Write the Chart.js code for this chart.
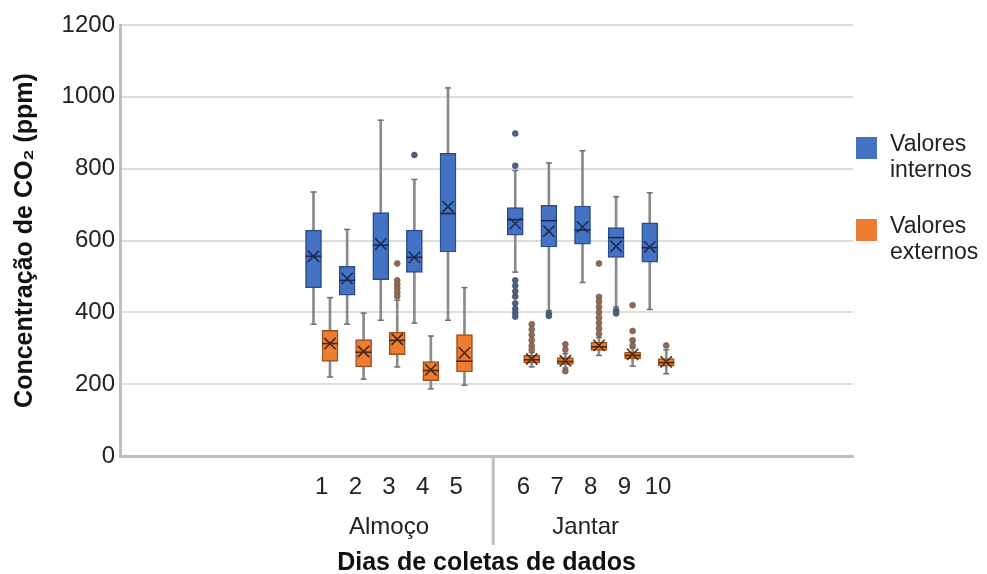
<!DOCTYPE html>
<html>
<head>
<meta charset="utf-8">
<script src="https://cdn.jsdelivr.net/npm/chart.js@4.4.0/dist/chart.umd.min.js"></script>
<style>
  body { margin: 0; background: #fff; }
  #wrap { width: 987px; height: 574px; }
</style>
</head>
<body>
<div id="wrap"><canvas id="grafico" width="987" height="574"></canvas></div>
<script>
// Dias de coleta e grupos
const dias = ['1', '2', '3', '4', '5', '6', '7', '8', '9', '10'];
const grupos = ['Almoço', 'Jantar'];
const yTicks = [0, 200, 400, 600, 800, 1000, 1200];

// Valores internos (ppm)
const intMin = [367, 367, 378, 370, 378, 512, 405, 483, 415, 408];
const intQ1 = [469, 448, 491, 511, 568, 615, 582, 590, 553, 540];
const intMed = [556, 489, 587, 553, 675, 658, 655, 629, 608, 580];
const intQ3 = [629, 528, 678, 629, 843, 692, 698, 696, 636, 649];
const intMax = [735, 631, 935, 770, 1025, 795, 816, 850, 722, 733];
const intMedia = [556, 494, 590, 553, 694, 647, 626, 638, 584, 582];
const intOut = [[], [], [], [838], [], [898, 808, 489, 474, 459, 444, 425, 410, 398, 388], [396, 390], [], [405, 397], []];

// Valores externos (ppm)
const extMin = [220, 214, 248, 187, 197, 248, 245, 280, 250, 229];
const extQ1 = [263, 248, 282, 210, 234, 259, 255, 294, 271, 250];
const extMed = [313, 289, 322, 238, 264, 268, 263, 304, 280, 260];
const extQ3 = [350, 324, 345, 263, 338, 280, 274, 317, 289, 271];
const extMax = [441, 398, 434, 334, 469, 288, 285, 330, 300, 296];
const extMedia = [313, 291, 325, 240, 287, 270, 265, 308, 283, 262];
const extOut = [[], [], [536, 489, 478, 467, 456, 445], [], [], [367, 352, 337, 322, 307, 296], [311, 296, 236], [536, 443, 430, 415, 400, 385, 370, 355, 340], [420, 348, 322, 308], [308]];

// posição no eixo x: um espaço vazio entre almoço e jantar
const posDia = i => (i < 5 ? i + 1 : i + 2);
const desloc = 0.245;
const xInt = i => posDia(i) - desloc;
const xExt = i => posDia(i) + desloc;

const fonte = '"Liberation Sans", Arial, sans-serif';
Chart.defaults.font.family = fonte;

const azul = '#4472c4', azulBorda = '#2e4d86', azulEscuro = '#1c2b4d';
const laranja = '#ed7d31', laranjaBorda = '#9c5020', laranjaEscuro = '#4a2a12';
const cinza = '#8a8a8a';

function pontos(xf, vals) {
    return vals.map((v, i) => ({ x: xf(i), y: v }));
}
function outliers(xf, lista) {
    const res = [];
    lista.forEach((vals, i) => vals.forEach(v => res.push({ x: xf(i), y: v })));
    return res;
}

// Separador, rótulos dos grupos e legenda
const extras = {
    id: 'extras',
    afterDraw(chart) {
        const { ctx, chartArea, scales: { x } } = chart;
        ctx.save();
        // linha entre almoço e jantar
        const xs = x.getPixelForValue(6.1);
        ctx.strokeStyle = '#bfbfbf';
        ctx.lineWidth = 3;
        ctx.beginPath();
        ctx.moveTo(xs, chartArea.bottom);
        ctx.lineTo(xs, chartArea.bottom + 89);
        ctx.stroke();

        ctx.font = '24px ' + fonte;
        ctx.fillStyle = '#222';
        ctx.textAlign = 'center';
        ctx.textBaseline = 'middle';
        ctx.fillText(grupos[0], x.getPixelForValue(3), chartArea.bottom + 71);
        ctx.fillText(grupos[1], x.getPixelForValue(8.85), chartArea.bottom + 71);

        // legenda com duas linhas
        ctx.font = '23px ' + fonte;
        const itens = chart.data.datasets.filter(d => d.legenda);
        itens.forEach((d, k) => {
            const top = chartArea.top + 112 + k * 82;
            ctx.fillStyle = d.backgroundColor;
            ctx.fillRect(chartArea.right + 3, top, 21, 22);
            ctx.fillStyle = '#222';
            ctx.textAlign = 'left';
            const partes = d.label.split(' ');
            ctx.fillText(partes[0], chartArea.right + 37, top + 8);
            ctx.fillText(partes[1], chartArea.right + 37, top + 34);
        });
        ctx.restore();
    }
};

new Chart(document.getElementById('grafico'), {
    type: 'bar',
    data: {
        datasets: [
            { type: 'scatter', data: pontos(xInt, intMedia), pointStyle: 'crossRot', radius: 8, borderColor: azulEscuro, borderWidth: 1.6, order: 1 },
            { type: 'scatter', data: pontos(xExt, extMedia), pointStyle: 'crossRot', radius: 8, borderColor: laranjaEscuro, borderWidth: 1.6, order: 1 },
            { type: 'scatter', data: pontos(xInt, intMed), pointStyle: 'line', radius: 8, borderColor: azulEscuro, borderWidth: 1.6, order: 2 },
            { type: 'scatter', data: pontos(xExt, extMed), pointStyle: 'line', radius: 8, borderColor: laranjaEscuro, borderWidth: 1.6, order: 2 },
            { type: 'scatter', data: outliers(xInt, intOut), radius: 3, backgroundColor: '#4e5f80', borderColor: '#3b4a66', borderWidth: 0.5, order: 3 },
            { type: 'scatter', data: outliers(xExt, extOut), radius: 3, backgroundColor: '#8d6b55', borderColor: '#6a4f3e', borderWidth: 0.5, order: 3 },
            {
                label: 'Valores internos', legenda: true,
                data: intQ1.map((q, i) => ({ x: xInt(i), y: [q, intQ3[i]] })),
                backgroundColor: azul, borderColor: azulBorda, borderWidth: 1.5, borderSkipped: false,
                barThickness: 16, grouped: false, order: 4
            },
            {
                label: 'Valores externos', legenda: true,
                data: extQ1.map((q, i) => ({ x: xExt(i), y: [q, extQ3[i]] })),
                backgroundColor: laranja, borderColor: laranjaBorda, borderWidth: 1.5, borderSkipped: false,
                barThickness: 16, grouped: false, order: 4
            },
            { type: 'scatter', data: pontos(xInt, intMin).concat(pontos(xInt, intMax)), pointStyle: 'line', radius: 3, borderColor: '#6f6f6f', borderWidth: 1.5, order: 5 },
            { type: 'scatter', data: pontos(xExt, extMin).concat(pontos(xExt, extMax)), pointStyle: 'line', radius: 3, borderColor: '#6f6f6f', borderWidth: 1.5, order: 5 },
            {
                data: intMin.map((m, i) => ({ x: xInt(i), y: [m, intMax[i]] })),
                backgroundColor: cinza, borderWidth: 0, barThickness: 2, grouped: false, order: 6
            },
            {
                data: extMin.map((m, i) => ({ x: xExt(i), y: [m, extMax[i]] })),
                backgroundColor: cinza, borderWidth: 0, barThickness: 2, grouped: false, order: 6
            }
        ]
    },
    options: {
        responsive: false,
        animation: false,
        events: [],
        layout: { padding: { top: 25, right: 134, left: 0, bottom: 0 } },
        plugins: { legend: { display: false }, tooltip: { enabled: false } },
        scales: {
            x: {
                type: 'linear', min: -5, max: 16.8, offset: false,
                grid: { display: false },
                border: { color: '#bfbfbf', width: 3 },
                afterBuildTicks: s => { s.ticks = dias.map((d, i) => ({ value: posDia(i) })); },
                afterFit: s => { s.height = 118; },
                ticks: {
                    autoSkip: false, maxRotation: 0, padding: 9, color: '#222', font: { size: 24 },
                    callback: (v, i) => dias[i]
                },
                title: {
                    display: true, text: 'Dias de coletas de dados', color: '#111',
                    font: { size: 25, weight: 'bold' }, padding: { top: 0, bottom: -4 }
                }
            },
            y: {
                min: 0, max: 1200,
                afterBuildTicks: s => { s.ticks = yTicks.map(v => ({ value: v })); },
                afterFit: s => { s.width = 120; },
                grid: { color: '#dedede', lineWidth: 2, drawTicks: false },
                border: { color: '#bfbfbf', width: 3 },
                ticks: { padding: 5, color: '#222', font: { size: 24 }, callback: v => String(v) },
                title: {
                    display: true, text: 'Concentração de CO₂ (ppm)', color: '#111',
                    font: { size: 25, weight: 'bold' }, padding: { top: 10, bottom: 0 }
                }
            }
        }
    },
    plugins: [extras]
});
</script>
</body>
</html>
